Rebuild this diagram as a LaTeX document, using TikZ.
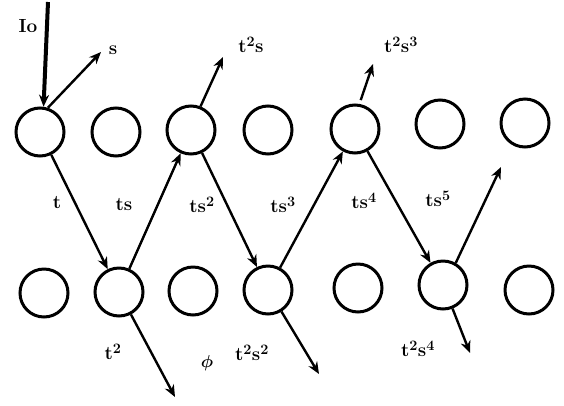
\documentclass[tikz,border=0pt]{standalone}
\usetikzlibrary{arrows.meta}
\begin{document}
\begin{tikzpicture}[x=1pt,y=-1pt,
  ring/.style={circle,draw,line width=3pt,minimum size=48pt,inner sep=0pt},
  ray/.style={line width=2.4pt,-{Stealth[length=12pt,width=10pt]}},
  lbl/.style={font=\fontsize{19}{19}\selectfont\bfseries\boldmath,inner sep=0pt}]
\useasboundingbox (0,0) rectangle (564,405);
% top row
\node[ring] (T1) at (40,132) {};
\node[ring] (T2) at (116,132) {};
\node[ring] (T3) at (191,130) {};
\node[ring] (T4) at (268,130) {};
\node[ring] (T5) at (355,129) {};
\node[ring] (T6) at (440,124) {};
\node[ring] (T7) at (525,123) {};
% bottom row
\node[ring] (B1) at (44,293) {};
\node[ring] (B2) at (119,292) {};
\node[ring] (B3) at (193,291) {};
\node[ring] (B4) at (268,290) {};
\node[ring] (B5) at (358,288) {};
\node[ring] (B6) at (443,285) {};
\node[ring] (B7) at (529,290) {};
% free ends
\coordinate (src) at (48,2);
\coordinate (rs) at (101,52);
\coordinate (r3) at (223,57);
\coordinate (r5) at (373,64);
\coordinate (r6) at (501,167);
\coordinate (d2) at (175,397);
\coordinate (d4) at (319,374);
\coordinate (d6) at (470,353);
% rays
\draw[ray,line width=4pt] (src) -- (T1.82);
\draw[ray] (T1.72) -- (rs);
\draw[ray] (T1) -- (B2);
\draw[ray] (B2) -- (T3);
\draw[ray] (T3.68) -- (r3);
\draw[ray] (T3) -- (B4);
\draw[ray] (B4) -- (T5);
\draw[ray,shorten <=4pt] (T5.80) -- (r5);
\draw[ray] (T5) -- (B6);
\draw[ray] (B6.60) -- (r6);
\draw[ray] (B2.-62) -- (d2);
\draw[ray] (B4.-58) -- (d4);
\draw[ray] (B6.-68) -- (d6);
% labels
\node[lbl] (lI) at (28,26) {Io};
\node[lbl] (ls) at (113,50) {s};
\node[lbl] (lt2s) at (251,45) {t$^{2}$s};
\node[lbl] (lt2s3) at (401,45) {t$^{2}$s$^{3}$};
\node[lbl] (l1) at (57,203) {t};
\node[lbl] (l2) at (124,205) {ts};
\node[lbl] (l3) at (202,205) {ts$^{2}$};
\node[lbl] (l4) at (283,205) {ts$^{3}$};
\node[lbl] (l5) at (364,201) {ts$^{4}$};
\node[lbl] (l6) at (438,199) {ts$^{5}$};
\node[lbl] (lb2) at (113,352) {t$^{2}$};
\node[lbl] (lphi) at (207,363) {$\phi$};
\node[lbl] (lb4) at (252,353) {t$^{2}$s$^{2}$};
\node[lbl] (lb6) at (418,349) {t$^{2}$s$^{4}$};
\end{tikzpicture}
\end{document}
